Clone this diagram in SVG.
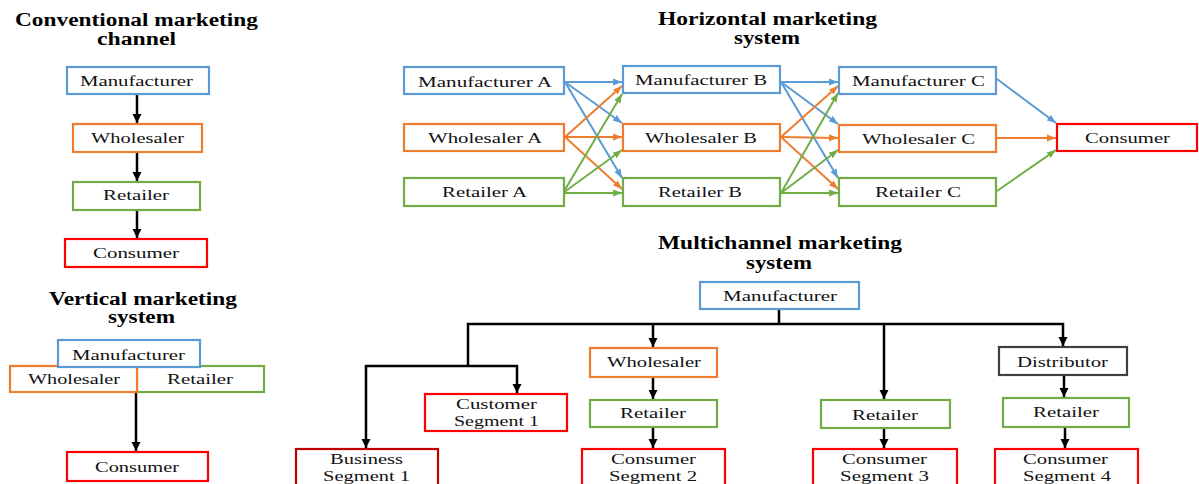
<svg xmlns="http://www.w3.org/2000/svg" width="1199" height="484" viewBox="0 0 1199 484" font-family="'Liberation Serif', 'DejaVu Serif', serif">
<style>
.bx{fill:#fff;stroke-width:2.2}
.b{stroke:#5b9bd5}.o{stroke:#ed7d31}.g{stroke:#70ad47}.r{stroke:#ff0000}.dr{stroke:#c00000}.k{stroke:#404040}
text{font-family:'Liberation Serif','DejaVu Serif',serif;font-size:15.5px;fill:#111}
.t{font-weight:bold;font-size:18px;fill:#000}
.ka{stroke:#000;stroke-width:2.5;fill:none;marker-end:url(#mk)}
.kl{stroke:#000;stroke-width:2.5;fill:none}
.ab{stroke:#5b9bd5;stroke-width:2;marker-end:url(#mb)}
.ao{stroke:#ed7d31;stroke-width:2;marker-end:url(#mo)}
.ag{stroke:#70ad47;stroke-width:2;marker-end:url(#mg)}
</style>
<defs>
<marker id="mk" markerUnits="userSpaceOnUse" markerWidth="10" markerHeight="10" refX="9" refY="5" orient="auto"><path d="M0,0.5 L9,5 L0,9.5 z" fill="#000"/></marker>
<marker id="mb" markerUnits="userSpaceOnUse" markerWidth="10" markerHeight="8" refX="9" refY="4" orient="auto"><path d="M0,0.5 L9,4 L0,7.5 z" fill="#5b9bd5"/></marker>
<marker id="mo" markerUnits="userSpaceOnUse" markerWidth="10" markerHeight="8" refX="9" refY="4" orient="auto"><path d="M0,0.5 L9,4 L0,7.5 z" fill="#ed7d31"/></marker>
<marker id="mg" markerUnits="userSpaceOnUse" markerWidth="10" markerHeight="8" refX="9" refY="4" orient="auto"><path d="M0,0.5 L9,4 L0,7.5 z" fill="#70ad47"/></marker>
</defs>
<rect width="1199" height="484" fill="#fff"/>

<!-- Titles -->
<g id="titles">
<text class="t" x="15" y="26" textLength="243" lengthAdjust="spacingAndGlyphs">Conventional marketing</text>
<text class="t" x="97" y="45" textLength="79" lengthAdjust="spacingAndGlyphs">channel</text>
<text class="t" x="49" y="305" textLength="188" lengthAdjust="spacingAndGlyphs">Vertical marketing</text>
<text class="t" x="108" y="323" textLength="67" lengthAdjust="spacingAndGlyphs">system</text>
<text class="t" x="658" y="25" textLength="219" lengthAdjust="spacingAndGlyphs">Horizontal marketing</text>
<text class="t" x="734" y="44" textLength="66" lengthAdjust="spacingAndGlyphs">system</text>
<text class="t" x="658" y="249" textLength="244" lengthAdjust="spacingAndGlyphs">Multichannel marketing</text>
<text class="t" x="746" y="269" textLength="66" lengthAdjust="spacingAndGlyphs">system</text>
</g>

<!-- Connectors -->
<g id="connectors">
<line class="ka" x1="137" y1="95" x2="137" y2="123"/>
<line class="ka" x1="137" y1="153" x2="137" y2="181"/>
<line class="ka" x1="137" y1="211" x2="137" y2="238"/>
<line class="ka" x1="136" y1="392" x2="136" y2="451"/>

<line class="ab" x1="565" y1="82" x2="622" y2="82"/>
<line class="ab" x1="565" y1="82" x2="622" y2="123"/>
<line class="ab" x1="565" y1="82" x2="622" y2="178"/>
<line class="ao" x1="565" y1="137" x2="622" y2="86"/>
<line class="ao" x1="565" y1="137" x2="622" y2="137"/>
<line class="ao" x1="565" y1="137" x2="622" y2="189"/>
<line class="ag" x1="563" y1="193" x2="622" y2="94"/>
<line class="ag" x1="563" y1="193" x2="622" y2="150"/>
<line class="ag" x1="563" y1="193" x2="622" y2="193"/>

<line class="ab" x1="781" y1="82" x2="838" y2="82"/>
<line class="ab" x1="781" y1="82" x2="838" y2="124"/>
<line class="ab" x1="781" y1="82" x2="838" y2="178"/>
<line class="ao" x1="781" y1="137" x2="838" y2="86"/>
<line class="ao" x1="781" y1="137" x2="838" y2="138"/>
<line class="ao" x1="781" y1="137" x2="838" y2="189"/>
<line class="ag" x1="781" y1="193" x2="838" y2="93"/>
<line class="ag" x1="781" y1="193" x2="838" y2="150"/>
<line class="ag" x1="781" y1="193" x2="838" y2="193"/>

<line class="ab" x1="997" y1="79" x2="1056" y2="123"/>
<line class="ao" x1="997" y1="138" x2="1056" y2="138"/>
<line class="ag" x1="997" y1="191" x2="1056" y2="150"/>

<polyline class="kl" points="779,310 779,324"/>
<polyline class="kl" points="468,366 468,324 884,324"/>
<polyline class="ka" points="884,324 1063,324 1063,346"/>
<line class="ka" x1="884" y1="324" x2="884" y2="399"/>
<line class="ka" x1="653" y1="324" x2="653" y2="347"/>
<polyline class="ka" points="468,366 366,366 366,448"/>
<polyline class="ka" points="468,366 517,366 517,393"/>
<line class="ka" x1="653" y1="378" x2="653" y2="399"/>
<line class="ka" x1="653" y1="428" x2="653" y2="448"/>
<line class="ka" x1="884" y1="429" x2="884" y2="448"/>
<line class="ka" x1="1064" y1="376" x2="1064" y2="397"/>
<line class="ka" x1="1065" y1="428" x2="1065" y2="448"/>
</g>

<!-- Conventional -->
<g id="conv-manufacturer"><rect class="bx b" x="67" y="67" width="142" height="27"/><text x="80" y="86" textLength="113" lengthAdjust="spacingAndGlyphs">Manufacturer</text></g>
<g id="conv-wholesaler"><rect class="bx o" x="73" y="124" width="129" height="28"/><text x="91" y="143" textLength="93" lengthAdjust="spacingAndGlyphs">Wholesaler</text></g>
<g id="conv-retailer"><rect class="bx g" x="73" y="182" width="127" height="28"/><text x="103" y="200" textLength="66" lengthAdjust="spacingAndGlyphs">Retailer</text></g>
<g id="conv-consumer"><rect class="bx r" x="65" y="239" width="142" height="28"/><text x="93" y="258" textLength="86" lengthAdjust="spacingAndGlyphs">Consumer</text></g>

<!-- Vertical -->
<g id="vert-retailer"><rect class="bx g" x="137" y="366" width="127" height="26"/><text x="167" y="384" textLength="66" lengthAdjust="spacingAndGlyphs">Retailer</text></g>
<g id="vert-wholesaler"><rect class="bx o" x="10" y="366" width="127" height="26"/><text x="28" y="384" textLength="92" lengthAdjust="spacingAndGlyphs">Wholesaler</text></g>
<g id="vert-manufacturer"><rect class="bx b" x="58" y="340" width="142" height="27"/><text x="72" y="360" textLength="113" lengthAdjust="spacingAndGlyphs">Manufacturer</text></g>
<g id="vert-consumer"><rect class="bx r" x="67" y="452" width="141" height="29"/><text x="95" y="472" textLength="84" lengthAdjust="spacingAndGlyphs">Consumer</text></g>

<!-- Horizontal -->
<g id="h-manufacturer-a"><rect class="bx b" x="404" y="67" width="160" height="27"/><text x="418" y="87" textLength="134" lengthAdjust="spacingAndGlyphs">Manufacturer A</text></g>
<g id="h-wholesaler-a"><rect class="bx o" x="404" y="124" width="160" height="27"/><text x="428" y="143" textLength="114" lengthAdjust="spacingAndGlyphs">Wholesaler A</text></g>
<g id="h-retailer-a"><rect class="bx g" x="404" y="178" width="160" height="28"/><text x="442" y="197" textLength="85" lengthAdjust="spacingAndGlyphs">Retailer A</text></g>
<g id="h-manufacturer-b"><rect class="bx b" x="623" y="66" width="157" height="27"/><text x="635" y="85" textLength="132" lengthAdjust="spacingAndGlyphs">Manufacturer B</text></g>
<g id="h-wholesaler-b"><rect class="bx o" x="623" y="124" width="157" height="27"/><text x="645" y="143" textLength="112" lengthAdjust="spacingAndGlyphs">Wholesaler B</text></g>
<g id="h-retailer-b"><rect class="bx g" x="623" y="178" width="157" height="28"/><text x="658" y="197" textLength="84" lengthAdjust="spacingAndGlyphs">Retailer B</text></g>
<g id="h-manufacturer-c"><rect class="bx b" x="839" y="67" width="157" height="27"/><text x="852" y="86" textLength="133" lengthAdjust="spacingAndGlyphs">Manufacturer C</text></g>
<g id="h-wholesaler-c"><rect class="bx o" x="839" y="125" width="157" height="27"/><text x="862" y="144" textLength="113" lengthAdjust="spacingAndGlyphs">Wholesaler C</text></g>
<g id="h-retailer-c"><rect class="bx g" x="839" y="178" width="157" height="28"/><text x="875" y="197" textLength="86" lengthAdjust="spacingAndGlyphs">Retailer C</text></g>
<g id="h-consumer"><rect class="bx r" x="1057" y="124" width="140" height="27"/><text x="1085" y="143" textLength="85" lengthAdjust="spacingAndGlyphs">Consumer</text></g>

<!-- Multichannel -->
<g id="m-manufacturer"><rect class="bx b" x="700" y="282" width="159" height="27"/><text x="723" y="301" textLength="114" lengthAdjust="spacingAndGlyphs">Manufacturer</text></g>
<g id="m-wholesaler"><rect class="bx o" x="590" y="348" width="127" height="29"/><text x="607" y="367" textLength="94" lengthAdjust="spacingAndGlyphs">Wholesaler</text></g>
<g id="m-retailer-2"><rect class="bx g" x="590" y="400" width="127" height="27"/><text x="620" y="418" textLength="66" lengthAdjust="spacingAndGlyphs">Retailer</text></g>
<g id="m-customer-segment-1"><rect class="bx r" x="425" y="394" width="142" height="37"/><text x="456" y="409" textLength="81" lengthAdjust="spacingAndGlyphs">Customer</text><text x="454" y="426" textLength="85" lengthAdjust="spacingAndGlyphs">Segment 1</text></g>
<g id="m-business-segment-1"><rect class="bx dr" x="296" y="449" width="142" height="42"/><text x="330" y="464" textLength="73" lengthAdjust="spacingAndGlyphs">Business</text><text x="323" y="481" textLength="87" lengthAdjust="spacingAndGlyphs">Segment 1</text></g>
<g id="m-consumer-segment-2"><rect class="bx r" x="582" y="449" width="143" height="42"/><text x="611" y="464" textLength="85" lengthAdjust="spacingAndGlyphs">Consumer</text><text x="609" y="481" textLength="88" lengthAdjust="spacingAndGlyphs">Segment 2</text></g>
<g id="m-retailer-3"><rect class="bx g" x="821" y="400" width="129" height="28"/><text x="852" y="420" textLength="66" lengthAdjust="spacingAndGlyphs">Retailer</text></g>
<g id="m-consumer-segment-3"><rect class="bx r" x="813" y="449" width="144" height="42"/><text x="842" y="464" textLength="85" lengthAdjust="spacingAndGlyphs">Consumer</text><text x="840" y="481" textLength="89" lengthAdjust="spacingAndGlyphs">Segment 3</text></g>
<g id="m-distributor"><rect class="bx k" x="999" y="347" width="128" height="28"/><text x="1017" y="367" textLength="91" lengthAdjust="spacingAndGlyphs">Distributor</text></g>
<g id="m-retailer-4"><rect class="bx g" x="1003" y="398" width="126" height="29"/><text x="1033" y="417" textLength="66" lengthAdjust="spacingAndGlyphs">Retailer</text></g>
<g id="m-consumer-segment-4"><rect class="bx r" x="995" y="449" width="143" height="42"/><text x="1023" y="464" textLength="85" lengthAdjust="spacingAndGlyphs">Consumer</text><text x="1023" y="481" textLength="88" lengthAdjust="spacingAndGlyphs">Segment 4</text></g>
</svg>
